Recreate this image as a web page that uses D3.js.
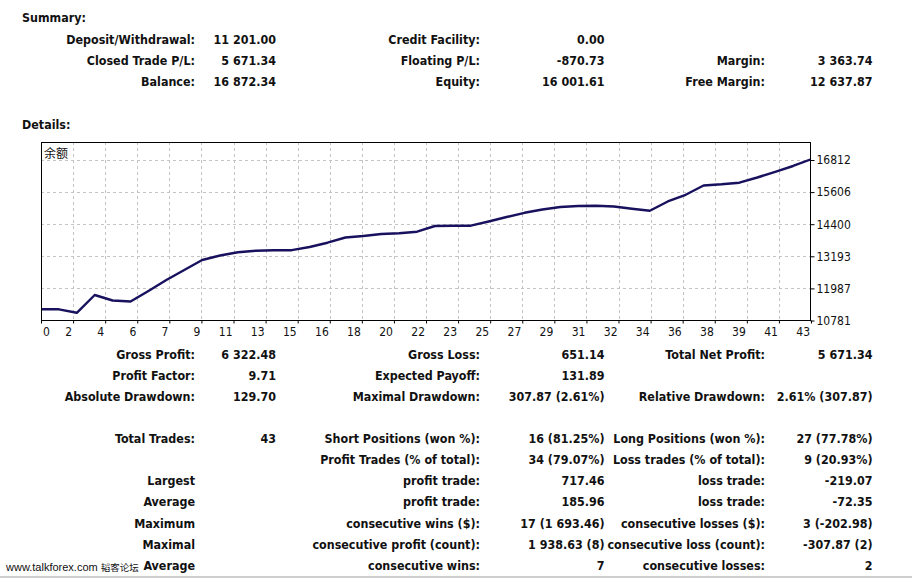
<!DOCTYPE html>
<html><head><meta charset="utf-8">
<script src="https://cdn.jsdelivr.net/npm/d3@7/dist/d3.min.js"></script>
<style>
html,body{margin:0;padding:0;background:#fff;}
svg{display:block;}
.b{font-family:"DejaVu Sans Condensed","DejaVu Sans",sans-serif;font-stretch:condensed;font-weight:bold;font-size:12.4px;fill:#111;}
.ax{font-family:"DejaVu Sans Condensed","DejaVu Sans",sans-serif;font-stretch:condensed;font-size:12px;fill:#111;}
</style></head>
<body>
<script>
// ---- data ----
const balance = [11201, 11201, 11071, 11739, 11533, 11495, 11890, 12303, 12679, 13054,
  13223, 13344, 13404, 13419, 13423, 13543, 13704, 13900, 13956, 14031,
  14058, 14118, 14332, 14343, 14343, 14501, 14670, 14828, 14952, 15046,
  15083, 15095, 15065, 14982, 14907, 15253, 15504, 15854, 15899, 15959,
  16154, 16368, 16587, 16840];
const yTicks = [10781, 11987, 13193, 14400, 15606, 16812];
const xTickLabels = ["0","2","4","6","7","9","11","13","15","16","18","20","22","23","25","27","29","31","32","34","36","38","39","41","43"];
const seriesName = "余额";

const summaryRows = [
  ["Deposit/Withdrawal:", "11 201.00", "Credit Facility:", "0.00", "", ""],
  ["Closed Trade P/L:", "5 671.34", "Floating P/L:", "-870.73", "Margin:", "3 363.74"],
  ["Balance:", "16 872.34", "Equity:", "16 001.61", "Free Margin:", "12 637.87"]
];
const detailRows = [
  ["Gross Profit:", "6 322.48", "Gross Loss:", "651.14", "Total Net Profit:", "5 671.34"],
  ["Profit Factor:", "9.71", "Expected Payoff:", "131.89", "", ""],
  ["Absolute Drawdown:", "129.70", "Maximal Drawdown:", "307.87 (2.61%)", "Relative Drawdown:", "2.61% (307.87)"],
  null,
  ["Total Trades:", "43", "Short Positions (won %):", "16 (81.25%)", "Long Positions (won %):", "27 (77.78%)"],
  ["", "", "Profit Trades (% of total):", "34 (79.07%)", "Loss trades (% of total):", "9 (20.93%)"],
  ["Largest", "", "profit trade:", "717.46", "loss trade:", "-219.07"],
  ["Average", "", "profit trade:", "185.96", "loss trade:", "-72.35"],
  ["Maximum", "", "consecutive wins ($):", "17 (1 693.46)", "consecutive losses ($):", "3 (-202.98)"],
  ["Maximal", "", "consecutive profit (count):", "1 938.63 (8)", "consecutive loss (count):", "-307.87 (2)"],
  ["Average", "", "consecutive wins:", "7", "consecutive losses:", "2"]
];
const watermarkLatin = "www.talkforex.com ";
const watermarkCJK = "韬客论坛";

// ---- layout ----
const W = 912, H = 578;
const svg = d3.select("body").append("svg").attr("width", W).attr("height", H);
svg.append("rect").attr("width", W).attr("height", H).attr("fill", "#fff");

const colX = [195, 276, 480, 604.5, 765, 872.5];
function drawRows(rows, y0, step) {
  rows.forEach((r, i) => {
    if (!r) return;
    const yy = y0 + i * step;
    r.forEach((t, j) => {
      if (!t) return;
      svg.append("text").attr("class", "b").attr("x", colX[j]).attr("y", yy)
        .attr("dy", "0.36em").attr("text-anchor", "end").text(t);
    });
  });
}
svg.append("text").attr("class", "b").attr("x", 22).attr("y", 18).attr("dy", "0.36em").text("Summary:");
drawRows(summaryRows, 39.5, 21.1);
svg.append("text").attr("class", "b").attr("x", 22).attr("y", 125).attr("dy", "0.36em").text("Details:");
drawRows(detailRows, 354.3, 21.1);

// ---- chart ----
const L = 41, R = 811, T = 142, B = 321;
const x = d3.scaleLinear().domain([0, balance.length - 1]).range([L, R]);
const xg = d3.scalePoint().domain(xTickLabels.map((d, i) => i)).range([L, R]);
const y = d3.scaleLinear().domain([yTicks[0], yTicks[yTicks.length - 1]]).range([B - 0.5, 160]);

const g = svg.append("g");
// grid
g.selectAll(".vg").data(xTickLabels.slice(1, -1)).enter().append("line")
  .attr("x1", (d, i) => Math.round(xg(i + 1)) + 0.5).attr("x2", (d, i) => Math.round(xg(i + 1)) + 0.5)
  .attr("y1", T).attr("y2", B).attr("stroke", "#c4c4c4").attr("stroke-dasharray", "3,3");
g.selectAll(".hg").data(yTicks.slice(1)).enter().append("line")
  .attr("x1", L).attr("x2", R).attr("y1", d => Math.round(y(d)) + 0.5).attr("y2", d => Math.round(y(d)) + 0.5)
  .attr("stroke", "#c4c4c4").attr("stroke-dasharray", "3,3");

// line
svg.append("clipPath").attr("id", "clp").append("rect").attr("x", L).attr("y", T).attr("width", R - L).attr("height", B - T);
g.append("path").datum(balance).attr("clip-path", "url(#clp)")
  .attr("fill", "none").attr("stroke", "#17115e").attr("stroke-width", 2.4).attr("stroke-linejoin", "round")
  .attr("d", d3.line().x((d, i) => x(i)).y(d => y(d)));

// frame
g.append("rect").attr("x", L + 0.5).attr("y", T + 0.5).attr("width", R - L - 1).attr("height", B - T - 1)
  .attr("fill", "none").attr("stroke", "#000");

// y axis
const ya = g.append("g").attr("transform", `translate(${R - 0.5},0)`)
  .call(d3.axisRight(y).tickValues(yTicks).tickFormat(d3.format("d")).tickSize(4).tickPadding(2));
ya.select(".domain").remove();
ya.selectAll("text").attr("class", "ax").attr("font-family", null).attr("font-size", null).attr("fill", null);
ya.selectAll("line").attr("stroke", "#000");

// x axis
const xa = g.append("g").attr("transform", `translate(0,${B - 0.5})`)
  .call(d3.axisBottom(xg).tickFormat(i => xTickLabels[i]).tickSize(3).tickPadding(4));
xa.select(".domain").remove();
xa.selectAll("line").attr("stroke", "#000");
xa.selectAll("text").attr("class", "ax").attr("font-family", null).attr("font-size", null).attr("fill", null)
  .attr("text-anchor", (d, i) => i === 0 ? "start" : "end")
  .attr("x", (d, i) => i === 0 ? 1.5 : -1.5);

// series label
g.append("text").attr("x", L + 3).attr("y", 154).attr("dy", "0.36em")
  .style("font-family", '"Noto Sans CJK SC",sans-serif').style("font-size", "12px").attr("fill", "#111").text(seriesName);

// watermark
const wm = svg.append("text").attr("x", 6).attr("y", 567.5).attr("dy", "0.36em")
  .style("font-family", '"Liberation Sans",sans-serif').style("font-size", "11px").attr("fill", "#111");
wm.append("tspan").text(watermarkLatin);
wm.append("tspan").style("font-family", '"Noto Sans CJK SC",sans-serif').style("font-size", "9.5px").text(watermarkCJK);
svg.append("rect").attr("x", 0).attr("y", 576).attr("width", W).attr("height", 2).attr("fill", "#cfcfcf");
</script>
</body></html>
